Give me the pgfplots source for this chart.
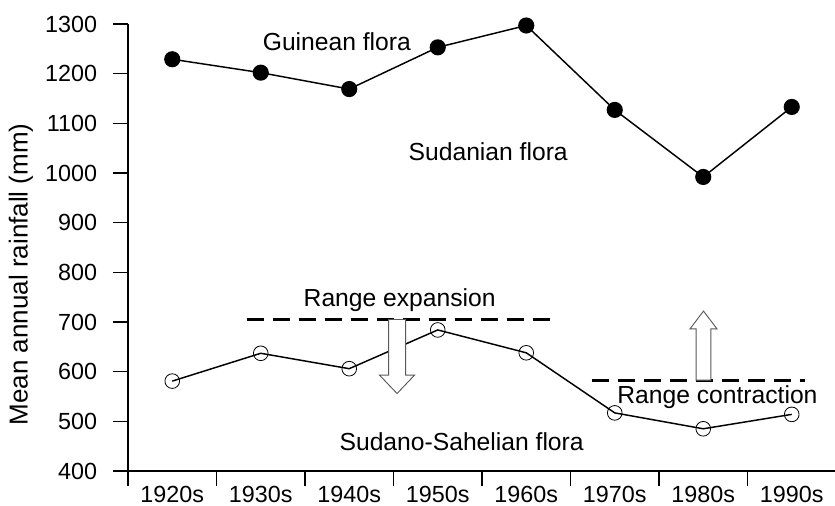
\documentclass[border=0pt]{standalone}
\usepackage{pgfplots}
\pgfplotsset{compat=1.18}
\usepackage{fontspec}
\setmainfont{Liberation Sans}
\begin{document}
\fontsize{18}{21}\selectfont
\begin{tikzpicture}
\useasboundingbox (0,0) rectangle (626.25pt,379.5pt);
\begin{axis}[
  at={(96pt,26.25pt)}, anchor=south west,
  scale only axis, width=531pt, height=335.25pt,
  xmin=-0.5, xmax=7.5, ymin=400, ymax=1300,
  axis lines=left, axis line style={-, line width=1.4pt},
  every tick label/.append style={font=\fontsize{17.5}{20}\selectfont},
  every axis label/.append style={font=\fontsize{19.5}{22}\selectfont},
  /pgf/number format/assume math mode=true,
  tick align=outside,
  ytick={400,500,...,1300},
  major tick length=11pt,
  tick style={line width=1.2pt, black},
  yticklabel style={xshift=-6pt},
  y tick label style={/pgf/number format/1000 sep={}},
  xtick={-0.5,0.5,...,6.5}, xticklabels={},
  extra x ticks={0,1,...,7},
  extra x tick labels={1920s,1930s,1940s,1950s,1960s,1970s,1980s,1990s},
  extra x tick style={major tick length=0pt, xticklabel style={inner sep=0pt, yshift=-11.5pt}},
  ylabel={Mean annual rainfall (mm)},
  ylabel style={at={(ticklabel cs:0.44)}},
  ylabel shift=-3pt,
  clip=false,
]
\addplot[black, line width=1.1pt, mark=*, mark size=5.5pt, mark options={fill=black}]
  coordinates {(0,1229) (1,1202) (2,1169) (3,1253) (4,1297) (5,1127) (6,992) (7,1133)};
\addplot[black, line width=1.1pt, mark=o, mark size=5.5pt, mark options={line width=0.6pt, fill=white}]
  coordinates {(0,581) (1,637) (2,606) (3,684) (4,638) (5,517) (6,485) (7,514)};
\addplot[black, line width=2.2pt, dash pattern=on 13pt off 6.5pt] coordinates {(0.84,705) (4.30,705)};
\addplot[black, line width=2.2pt, dash pattern=on 13pt off 6.5pt] coordinates {(4.74,583) (7.15,583)};
% hollow arrows
\draw[gray!70!black, line width=0.7pt, fill=white]
  (axis cs:2.444,705) -- (axis cs:2.636,705) -- (axis cs:2.636,593) -- (axis cs:2.738,593)
  -- (axis cs:2.54,556) -- (axis cs:2.342,593) -- (axis cs:2.444,593) -- cycle;
\draw[gray!70!black, line width=0.7pt, fill=white]
  (axis cs:5.92,583) -- (axis cs:6.086,583) -- (axis cs:6.086,686) -- (axis cs:6.156,686)
  -- (axis cs:6.003,722) -- (axis cs:5.85,686) -- (axis cs:5.92,686) -- cycle;
\node[font=\fontsize{18.5}{21}\selectfont] at (axis cs:1.86,1265) {Guinean flora};
\node[font=\fontsize{18.5}{21}\selectfont] at (axis cs:3.57,1042) {Sudanian flora};
\node[font=\fontsize{18.5}{21}\selectfont] at (axis cs:2.57,744) {Range expansion};
\node[font=\fontsize{18.5}{21}\selectfont] at (axis cs:6.16,548) {Range contraction};
\node[font=\fontsize{18.5}{21}\selectfont] at (axis cs:3.27,460) {Sudano-Sahelian flora};
\end{axis}
\end{tikzpicture}
\end{document}
